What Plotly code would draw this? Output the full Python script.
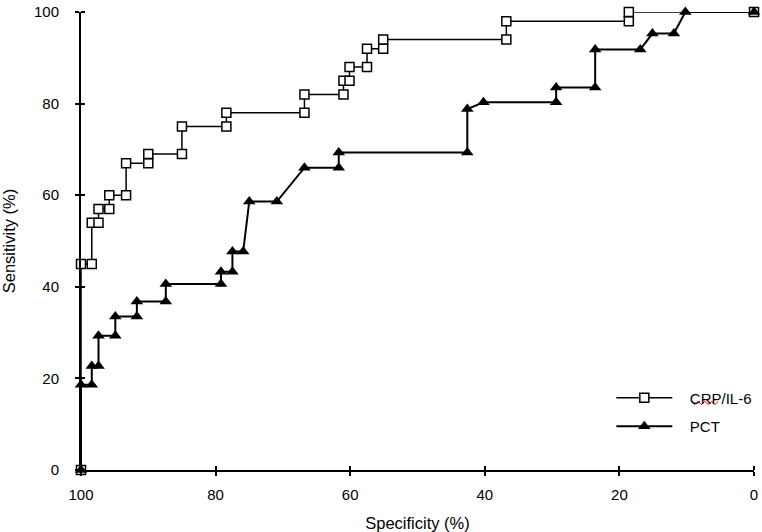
import plotly.graph_objects as go

# CRP/IL-6 ROC steps (specificity %, sensitivity %)
crp_spec = [100, 100, 98.4, 98.4, 97.4, 97.4, 95.8, 95.8, 93.3, 93.3, 90.0, 90.0,
            85.0, 85.0, 78.4, 78.4, 66.8, 66.8, 61.0, 61.0, 60.1, 60.1, 57.5, 57.5,
            55.1, 55.1, 36.8, 36.8, 18.6, 18.6, 0]
crp_sens = [0, 45, 45, 54, 54, 57, 57, 60, 60, 67, 67, 69,
            69, 75, 75, 78, 78, 82, 82, 85, 85, 88, 88, 92,
            92, 94, 94, 98, 98, 100, 100]

# PCT ROC steps
pct_spec = [100, 100, 98.4, 98.4, 97.4, 97.4, 94.9, 94.9, 91.7, 91.7, 87.4, 87.4,
            79.2, 79.2, 77.5, 77.5, 75.9, 75.0, 70.9, 66.8, 61.7, 61.7, 42.6, 42.6,
            40.2, 29.4, 29.4, 23.6, 23.6, 16.9, 15.1, 11.9, 10.2, 0]
pct_sens = [0, 18.6, 18.6, 22.7, 22.7, 29.3, 29.3, 33.5, 33.5, 36.8, 36.8, 40.6,
            40.6, 43.3, 43.3, 47.7, 47.7, 58.6, 58.6, 66.0, 66.0, 69.3, 69.3, 78.8,
            80.3, 80.3, 83.5, 83.5, 91.8, 91.8, 95.3, 95.3, 100, 100]

ticks = [0, 20, 40, 60, 80, 100]
font = "Liberation Sans, Arial, sans-serif"
pad = "\u00a0\u00a0\u00a0"  # extra gap between legend symbol and text

fig = go.Figure()
fig.add_trace(go.Scatter(
    x=crp_spec, y=crp_sens, name=pad + "CRP/IL-6", mode="lines+markers",
    line=dict(color="black", width=1.5),
    marker=dict(symbol="square", size=9, color="white",
                line=dict(color="black", width=1.5)),
    cliponaxis=False, legendgroup="a",
))
fig.add_trace(go.Scatter(
    x=pct_spec, y=pct_sens, name=pad + "PCT", mode="lines+markers",
    line=dict(color="black", width=2),
    marker=dict(symbol="triangle-up", size=11, color="black",
                line=dict(color="black", width=0)),
    cliponaxis=False, legendgroup="b",
))

axis_common = dict(
    showgrid=False, zeroline=False, showline=True, linecolor="black", linewidth=2,
    ticks="outside", ticklen=4, tickwidth=1.5, tickcolor="black",
    minor=dict(ticks="inside", ticklen=4, tickwidth=1.5, tickcolor="black",
               tickvals=ticks),
    tickvals=ticks, tickfont=dict(size=15, color="black", family=font),
    automargin=False,
)
fig.update_xaxes(range=[100, 0], title=dict(text="Specificity (%)",
                 font=dict(size=16.5, color="black", family=font)),
                 ticklabelstandoff=6, **axis_common)
fig.update_yaxes(range=[0, 100], title=dict(text="Sensitivity (%)",
                 font=dict(size=16.5, color="black", family=font)),
                 ticklabelstandoff=13, **axis_common)

# spell-check squiggle under "CRP" in the legend
fig.add_shape(type="path", xref="paper", yref="paper",
              path="M 0.907 0.150 L 0.912 0.143 L 0.917 0.150 L 0.922 0.143 L 0.927 0.150 "
                   "L 0.932 0.143 L 0.937 0.150 L 0.942 0.143 L 0.947 0.150",
              line=dict(color="red", width=1))

fig.update_layout(
    width=762, height=532,
    margin=dict(l=81, r=5, t=12, b=62),
    paper_bgcolor="white", plot_bgcolor="white",
    font=dict(family=font, color="black", size=15),
    legend=dict(x=0.788, y=0.193, xanchor="left", yanchor="top", itemwidth=56,
                bgcolor="rgba(0,0,0,0)", tracegroupgap=6,
                font=dict(size=15, family=font)),
)

fig.write_html("out.html", config={"displayModeBar": False},
               post_script="document.body.style.margin='0px';")
